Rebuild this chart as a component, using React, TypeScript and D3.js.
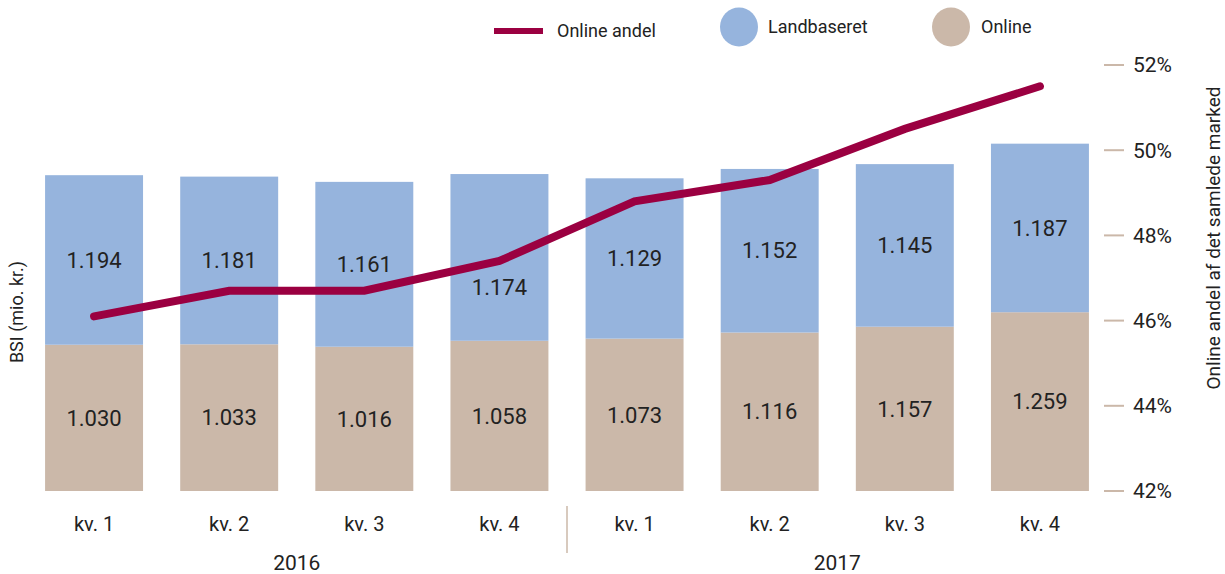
import React from 'react'
import * as d3 from 'd3'

const quarters = ['kv. 1', 'kv. 2', 'kv. 3', 'kv. 4', 'kv. 1', 'kv. 2', 'kv. 3', 'kv. 4']
const years = ['2016', '2017']
const onlineValues = [1030, 1033, 1016, 1058, 1073, 1116, 1157, 1259]
const landValues = [1194, 1181, 1161, 1174, 1129, 1152, 1145, 1187]
const onlineShare = [46.1, 46.7, 46.7, 47.4, 48.8, 49.3, 50.5, 51.5]
const shareTicks = [42, 44, 46, 48, 50, 52]

const BLUE = '#96b4dd'
const BEIGE = '#cbb8a9'
const RED = '#9b0041'
const TEXT = '#222'
const FONT = 'Roboto, "Noto Sans", sans-serif'

export default function App() {
  const width = 1225
  const height = 574
  const top = 65
  const bottom = 491

  const ids = quarters.map((_, i) => String(i))
  const x = d3.scaleBand().domain(ids).range([26.5, 1107.5]).paddingInner(0.275).paddingOuter(0.1375)
  const y = d3.scaleLinear().domain([0, 3000]).range([bottom, top])
  const yR = d3.scaleLinear().domain([42, 52]).range([bottom, top])
  const cx = (i: number) => (x(String(i)) as number) + x.bandwidth() / 2

  const line = d3
    .line<number>()
    .x((_, i) => cx(i))
    .y(d => yR(d))

  // flyt label under linjen hvis de overlapper
  const landLabelY = (i: number) => {
    const mid = (y(onlineValues[i]) + y(onlineValues[i] + landValues[i])) / 2
    const ly = yR(onlineShare[i])
    if (Math.abs(mid - ly) < 20) return ly + 26
    return mid
  }

  const fmt = (v: number) => d3.format(',')(v).replace(',', '.')

  return (
    <svg width={width} height={height} style={{ position: 'absolute', left: 0, top: 0, fontFamily: FONT }}>
      {/* legend */}
      <g>
        <line x1={494} x2={543} y1={31} y2={31} stroke={RED} strokeWidth={6} />
        <text x={557} y={31} dy="0.35em" fontSize={18} fill={TEXT}>Online andel</text>
        <ellipse cx={739} cy={27} rx={19} ry={19.5} fill={BLUE} />
        <text x={768} y={27} dy="0.35em" fontSize={18} fill={TEXT}>Landbaseret</text>
        <ellipse cx={951} cy={27} rx={19} ry={19.5} fill={BEIGE} />
        <text x={981} y={27} dy="0.35em" fontSize={18} fill={TEXT}>Online</text>
      </g>

      {/* bars */}
      {ids.map((id, i) => (
        <g key={id}>
          <rect
            x={x(id)}
            width={x.bandwidth()}
            y={y(onlineValues[i])}
            height={y(0) - y(onlineValues[i])}
            fill={BEIGE}
          />
          <rect
            x={x(id)}
            width={x.bandwidth()}
            y={y(onlineValues[i] + landValues[i])}
            height={y(onlineValues[i]) - y(onlineValues[i] + landValues[i])}
            fill={BLUE}
          />
          <text x={cx(i)} y={(y(0) + y(onlineValues[i])) / 2} dy="0.35em" textAnchor="middle" fontSize={22} fill={TEXT}>
            {fmt(onlineValues[i])}
          </text>
          <text x={cx(i)} y={landLabelY(i)} dy="0.35em" textAnchor="middle" fontSize={22} fill={TEXT}>
            {fmt(landValues[i])}
          </text>
        </g>
      ))}

      {/* online andel */}
      <path d={line(onlineShare) || ''} fill="none" stroke={RED} strokeWidth={8} strokeLinecap="round" strokeLinejoin="miter" />

      {/* right axis */}
      {shareTicks.map(t => (
        <g key={t} transform={`translate(0,${yR(t)})`}>
          <line x1={1104} x2={1124} stroke={BEIGE} strokeWidth={2} />
          <text x={1133} dy="0.35em" fontSize={21} fill={TEXT}>{t}%</text>
        </g>
      ))}
      <text transform="translate(1213,238) rotate(-90)" textAnchor="middle" dy="0.35em" fontSize={19} fill={TEXT}>
        Online andel af det samlede marked
      </text>

      {/* left axis title */}
      <text transform="translate(17,312) rotate(-90)" textAnchor="middle" dy="0.35em" fontSize={18} fill={TEXT}>
        BSI (mio. kr.)
      </text>

      {/* x axis */}
      {ids.map((id, i) => (
        <text key={id} x={cx(i)} y={524} dy="0.35em" textAnchor="middle" fontSize={20} fill={TEXT}>
          {quarters[i]}
        </text>
      ))}
      {years.map((yr, j) => (
        <text key={yr} x={(cx(j * 4) + cx(j * 4 + 3)) / 2} y={563} dy="0.35em" textAnchor="middle" fontSize={21} fill={TEXT}>
          {yr}
        </text>
      ))}
      <line x1={(cx(3) + cx(4)) / 2} x2={(cx(3) + cx(4)) / 2} y1={506} y2={553} stroke={BEIGE} strokeWidth={1.5} />
    </svg>
  )
}
